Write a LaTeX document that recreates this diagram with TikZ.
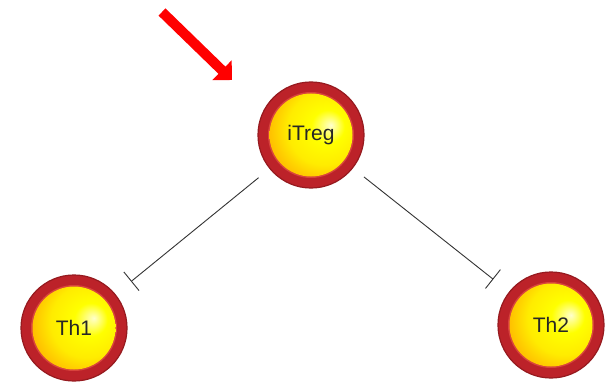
\documentclass[tikz,border=0pt]{standalone}
\usepackage{fontspec}
\setmainfont{Liberation Sans}
\usepackage{xcolor}
\usetikzlibrary{arrows.meta}
\definecolor{CellRed}{HTML}{BC2229}
\definecolor{CellDark}{HTML}{961A1F}
\definecolor{CellRim}{HTML}{D8443C}
\definecolor{CellText}{HTML}{262626}
\definecolor{LinkGray}{HTML}{333333}
\definecolor{CueRed}{HTML}{FF0000}
\pgfdeclareradialshading{cellcore}{\pgfpoint{12bp}{6bp}}{color(0bp)=(yellow!20!white); color(10bp)=(yellow); color(22bp)=(yellow!85!orange); color(40bp)=(orange!80!yellow); color(52bp)=(orange); color(66bp)=(orange!80!red)}

\begin{document}
\begin{tikzpicture}[x=1pt,y=1pt,
  cell/.style={circle,minimum size=106pt,inner sep=0pt,fill=CellRed,draw=CellDark,line width=1.2pt,
    text=CellText,font=\fontsize{21}{24}\selectfont,
    path picture={\fill[CellRim] (path picture bounding box.center) circle (43pt);
      \shade[shading=cellcore] (path picture bounding box.center) circle (41.5pt);}},
  inhibit/.style={draw=LinkGray,line width=0.9pt,-{Bar[width=24pt]},shorten <=14pt,shorten >=20pt},
  cue/.style={draw=CueRed,line width=10pt,-{Triangle[width=27pt,length=14pt]}}]
\path[use as bounding box] (0,0) rectangle (605,381);
\fill[white] (0,0) rectangle (605,381);
% cells
\node[cell] (itreg) at (311,246) {iTreg};
\node[cell] (th1) at (74,53) {Th1};
\node[cell] (th2) at (551,56) {Th2};
% suppression
\draw[inhibit] (itreg) -- (th1);
\draw[inhibit] (itreg) -- (th2);
% pointer
\coordinate (cue tail) at (162,369);
\coordinate (cue tip) at (232,301);
\draw[cue] (cue tail) -- (cue tip);
\end{tikzpicture}
\end{document}
